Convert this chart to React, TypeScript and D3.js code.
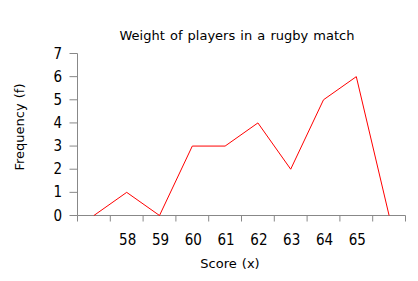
import React from "react";
import * as d3 from "d3";

const categories = ["57", "58", "59", "60", "61", "62", "63", "64", "65", "66"];
const tickLabels = ["", "58", "59", "60", "61", "62", "63", "64", "65", ""];
const frequencies = [0, 1, 0, 3, 3, 4, 2, 5, 6, 0];
const yTicks = [0, 1, 2, 3, 4, 5, 6, 7];

const W = 418;
const H = 281;
const left = 77.5;
const right = 405.5;
const top = 53.5;
const bottom = 215.5;
const font = "'DejaVu Sans', Verdana, sans-serif";
const numFont = "'DejaVu Sans Condensed', 'Liberation Sans', sans-serif";

export default function App() {
  const x = d3.scaleBand<string>().domain(categories).range([left, right]);
  const y = d3.scaleLinear().domain([0, 7]).range([bottom, top]);
  const line = d3
    .line<number>()
    .x((_, i) => (x(categories[i]) as number) + x.bandwidth() / 2)
    .y((d) => y(d));
  const bounds = categories.map((c) => x(c) as number).concat([right]);
  return (
    <svg width={W} height={H} style={{ position: "absolute", left: 0, top: 0 }}>
      <rect width={W} height={H} fill="#fff" />
      <text x={237} y={40} textAnchor="middle" fontFamily={font} fontSize={13} fill="#000" wordSpacing={1}>
        Weight of players in a rugby match
      </text>
      <line x1={left} x2={left} y1={top} y2={bottom} stroke="#888" />
      <line x1={left} x2={right} y1={bottom} y2={bottom} stroke="#888" />
      {yTicks.map((t) => (
        <g key={t}>
          <line x1={left - 8} x2={left} y1={y(t)} y2={y(t)} stroke="#888" />
          <text x={62} y={y(t) + 5} textAnchor="end" fontFamily={numFont} fontSize={15} fill="#000">
            {t}
          </text>
        </g>
      ))}
      {bounds.map((b, i) => (
        <line key={i} x1={b} x2={b} y1={bottom} y2={bottom + 6} stroke="#888" />
      ))}
      {categories.map((c, i) => (
        <text
          key={c}
          x={(x(c) as number) + x.bandwidth() / 2 + 1}
          y={244.5}
          textAnchor="middle"
          fontFamily={numFont}
          fontSize={15}
          fill="#000"
        >
          {tickLabels[i]}
        </text>
      ))}
      <path d={line(frequencies) as string} fill="none" stroke="#ff0000" strokeWidth={1} />
      <text x={230} y={268} textAnchor="middle" fontFamily={font} fontSize={13} fill="#000" wordSpacing={1}>
        Score (x)
      </text>
      <text
        transform={`translate(24,127) rotate(-90)`}
        textAnchor="middle"
        fontFamily={font}
        fontSize={13}
        fill="#000"
        wordSpacing={1}
      >
        Frequency (f)
      </text>
    </svg>
  );
}
